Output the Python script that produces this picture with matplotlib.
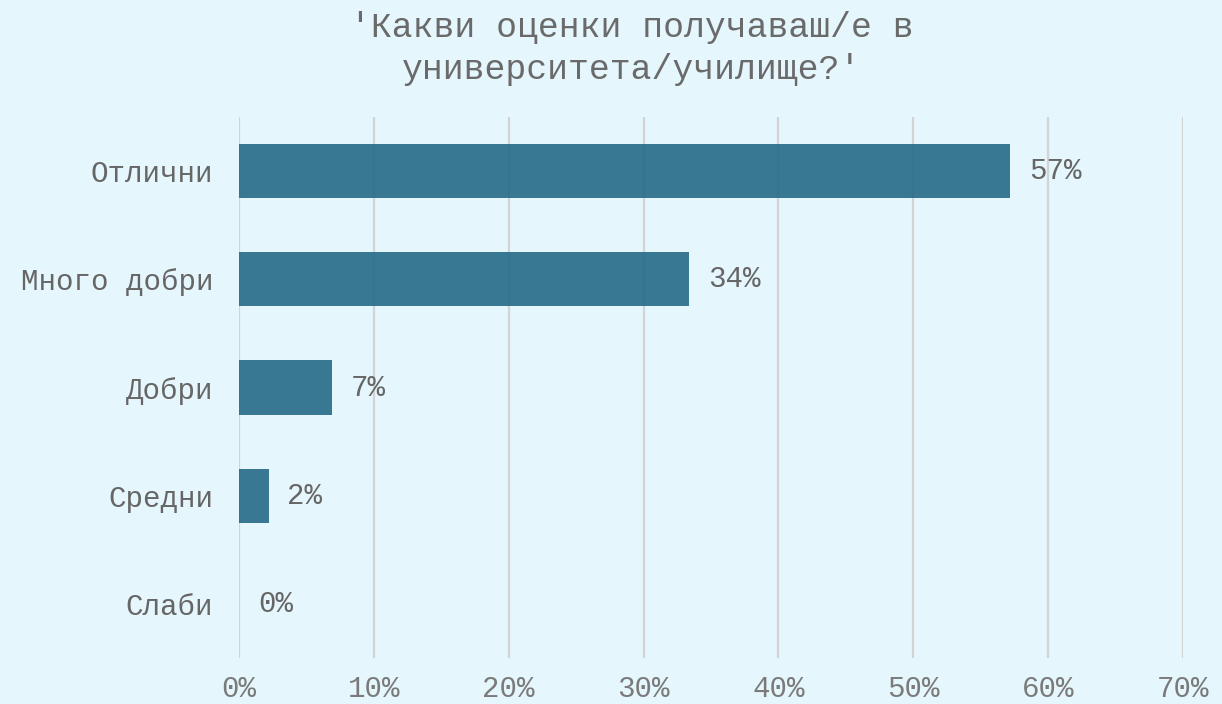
import matplotlib
matplotlib.use("Agg")
import matplotlib.pyplot as plt
import numpy as np

categories = ['Отлични', 'Много добри', 'Добри', 'Средни', 'Слаби']
values = [57.2, 33.4, 6.9, 2.2, 0.0]
labels = ['57%', '34%', '7%', '2%', '0%']
xticks = [0, 10, 20, 30, 40, 50, 60, 70]

bg = '#e5f6fd'
plt.rcParams['font.family'] = ['Liberation Mono', 'DejaVu Sans Mono']

fig = plt.figure(figsize=(12.22, 7.04), dpi=100, facecolor=bg)
ax = fig.add_axes([0.1956, 0.0653, 0.7725, 0.7685])
ax.set_facecolor(bg)

y = np.arange(len(categories))
ax.barh(y, values, height=0.5, color='#256a88', alpha=0.9, zorder=1)

for yi, v, t in zip(y, values, labels):
  ax.annotate(t, (v, yi), xytext=(13.5, 0), textcoords='offset points',
    ha='left', va='center', fontsize=21, color='#666666')

ax.set_xlim(0, 70)
ax.set_ylim(len(categories) - 0.5, -0.5)
ax.set_yticks(y)
ax.set_yticklabels(categories)
ax.set_xticks(xticks)
ax.set_xticklabels([str(t) + '%' for t in xticks])
ax.tick_params(axis='y', length=0, pad=18.5, labelsize=21, labelcolor='#666666')
ax.tick_params(axis='x', length=0, pad=12, labelsize=21, labelcolor='#7a7a7a')

ax.grid(axis='x', color='#d3d3d3', linewidth=1.6, zorder=0)
ax.set_axisbelow(True)
for s in ax.spines.values():
  s.set_visible(False)

fig.text(0.517, 0.984, "'Какви оценки получаваш/е в\nуниверситета/училище?'",
  ha='center', va='top', fontsize=25, color='#6a6a6a', linespacing=1.35)

fig.savefig('out.png', dpi=100, facecolor=bg)
